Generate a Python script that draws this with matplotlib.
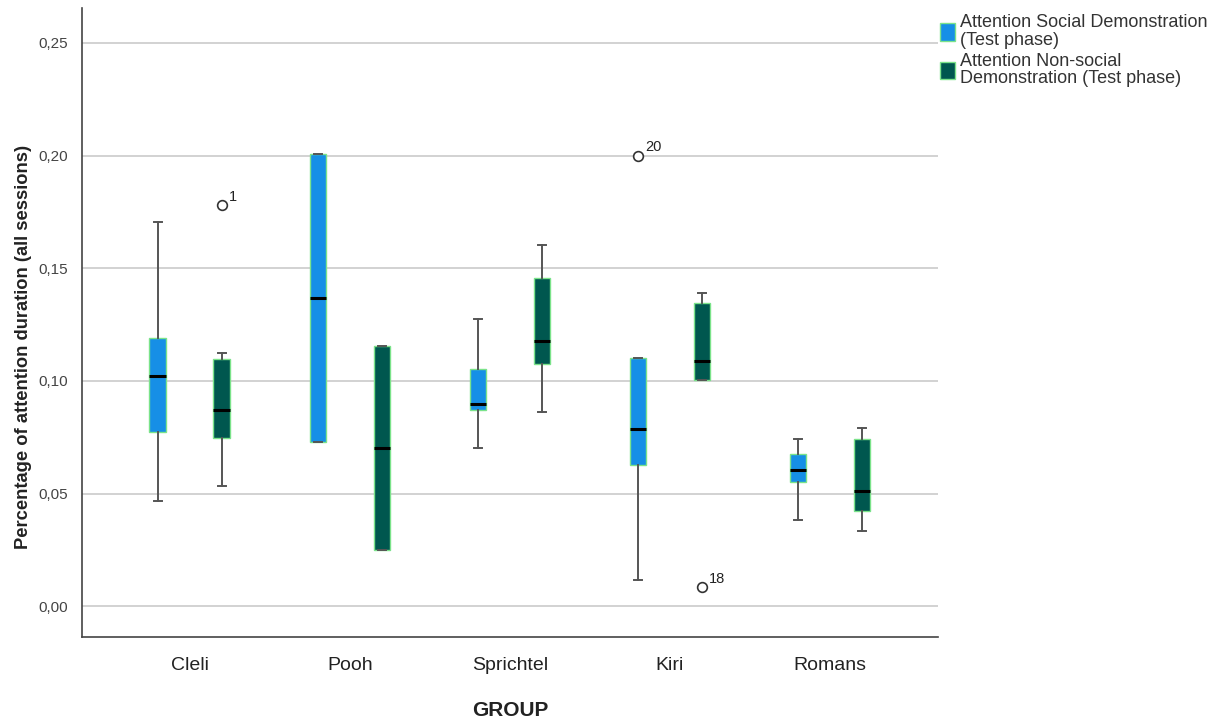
import matplotlib

matplotlib.use("Agg")
import matplotlib.pyplot as plt
from matplotlib.patches import Patch

plt.rcParams["font.family"] = ["Liberation Sans", "DejaVu Sans"]

# Data
groups = ["Cleli", "Pooh", "Sprichtel", "Kiri", "Romans"]

social_whislo = [0.0469, 0.0729, 0.0702, 0.0115, 0.0381]
social_q1 = [0.0773, 0.0729, 0.0872, 0.0628, 0.0553]
social_med = [0.1021, 0.1369, 0.0898, 0.0786, 0.0606]
social_q3 = [0.1192, 0.2006, 0.1055, 0.1100, 0.0676]
social_whishi = [0.1705, 0.2006, 0.1273, 0.1100, 0.0742]
social_fliers = [[], [], [], [0.2000], []]
social_flier_ids = [[], [], [], ["20"], []]

nonsoc_whislo = [0.0535, 0.0248, 0.0864, 0.1003, 0.0333]
nonsoc_q1 = [0.0749, 0.0248, 0.1077, 0.1003, 0.0425]
nonsoc_med = [0.0872, 0.0701, 0.1177, 0.1087, 0.0510]
nonsoc_q3 = [0.1096, 0.1155, 0.1457, 0.1347, 0.0742]
nonsoc_whishi = [0.1125, 0.1155, 0.1602, 0.1388, 0.0791]
nonsoc_fliers = [[0.1780], [], [], [0.0085], []]
nonsoc_flier_ids = [["1"], [], [], ["18"], []]

SOCIAL = "#168fe6"
NONSOC = "#00574f"
EDGE = "#7be38a"
WHISK = "#555555"
GRID = "#cfcfcf"
TXT = "#222222"


def make_stats(lo, q1, med, q3, hi, fl):
    return [dict(whislo=a, q1=b, med=c, q3=d, whishi=e, fliers=f)
            for a, b, c, d, e, f in zip(lo, q1, med, q3, hi, fl)]


fig = plt.figure(figsize=(12.22, 7.2), dpi=100)
ax = fig.add_axes([0.067, 0.115, 0.7006, 0.874])

pos = list(range(1, len(groups) + 1))
off = 0.2
series = [
    (make_stats(social_whislo, social_q1, social_med, social_q3, social_whishi, social_fliers),
     SOCIAL, -off, social_flier_ids),
    (make_stats(nonsoc_whislo, nonsoc_q1, nonsoc_med, nonsoc_q3, nonsoc_whishi, nonsoc_fliers),
     NONSOC, off, nonsoc_flier_ids),
]

for stats, color, dx, ids in series:
    p = [x + dx for x in pos]
    ax.bxp(stats, positions=p, widths=0.105, patch_artist=True, showfliers=True,
           boxprops=dict(facecolor=color, edgecolor=EDGE, linewidth=1.0),
           medianprops=dict(color="black", linewidth=2.2),
           whiskerprops=dict(color=WHISK, linewidth=1.4),
           capprops=dict(color=WHISK, linewidth=1.4),
           capwidths=0.05,
           flierprops=dict(marker="o", markerfacecolor="white", markeredgecolor="#333333",
                           markersize=7, markeredgewidth=1.2),
           zorder=3)
    for x, s, lab in zip(p, stats, ids):
        for y, t in zip(s["fliers"], lab):
            ax.annotate(t, (x, y), textcoords="offset points", xytext=(5, 3),
                        fontsize=10.5, color=TXT)

ax.set_xlim(0.325, 5.675)
ax.set_ylim(-0.0137, 0.2655)
ax.set_yticks([0.0, 0.05, 0.10, 0.15, 0.20, 0.25])
ax.set_yticklabels(["0,00", "0,05", "0,10", "0,15", "0,20", "0,25"], fontsize=11, color="#444444")
ax.set_xticks(pos)
ax.set_xticklabels(groups, fontsize=14, color=TXT)
ax.tick_params(length=0, pad=10)
ax.tick_params(axis="x", pad=14)
ax.grid(axis="y", color=GRID, linewidth=1.3)
ax.set_axisbelow(True)
for s in ("top", "right"):
    ax.spines[s].set_visible(False)
for s in ("left", "bottom"):
    ax.spines[s].set_color("#444444")
    ax.spines[s].set_linewidth(1.2)

ax.set_xlabel("GROUP", fontsize=15, fontweight="bold", labelpad=20, color=TXT)
ax.set_ylabel("Percentage of attention duration (all sessions)", fontsize=13.2,
              fontweight="bold", color=TXT)
ax.yaxis.set_label_coords(-0.058, 0.461)

handles = [
    Patch(facecolor=SOCIAL, edgecolor=EDGE, label="Attention Social Demonstration\n(Test phase)"),
    Patch(facecolor=NONSOC, edgecolor=EDGE, label="Attention Non-social\nDemonstration (Test phase)"),
]
leg = fig.legend(handles=handles, loc="upper left", bbox_to_anchor=(0.763, 0.99), frameon=False,
                 fontsize=13, handlelength=0.85, handleheight=1.1, handletextpad=0.3,
                 labelspacing=0.2, borderaxespad=0, labelcolor="#333333")
for t in leg.get_texts():
    t.set_linespacing(1.05)

fig.savefig("out.png", dpi=100)
